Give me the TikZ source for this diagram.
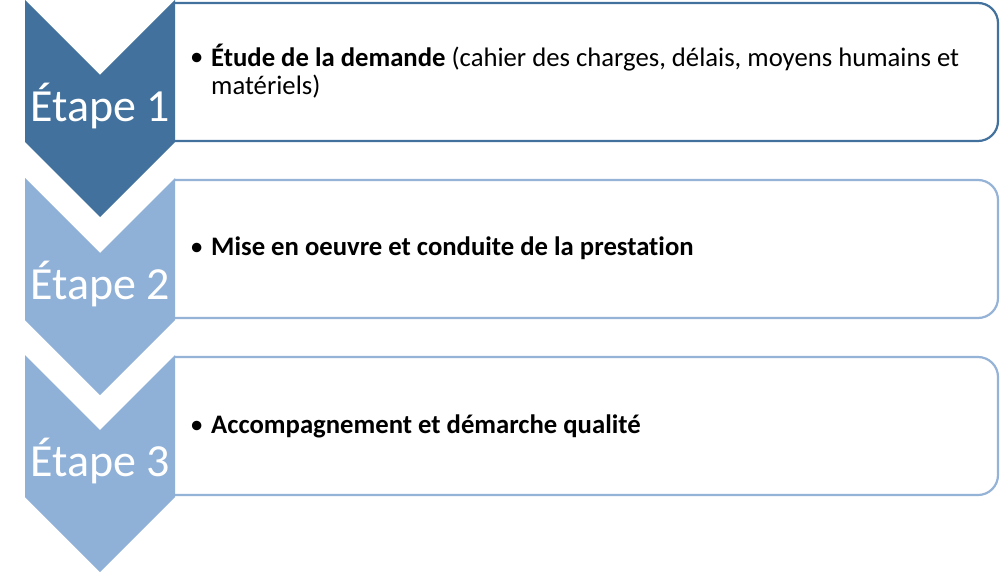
\documentclass[tikz,border=0pt]{standalone}
\usepackage{fontspec}
\setmainfont{Carlito}[Ligatures=NoCommon]
\definecolor{darkblue}{HTML}{41719C}
\definecolor{lightblue}{HTML}{8FB0D7}
\definecolor{lightborder}{HTML}{95B3D7}
\begin{document}
\begin{tikzpicture}[x=1pt,y=-1pt,
  boxline/.style={line width=2.2pt,fill=white,rounded corners=20pt},
  stagelabel/.style={text=white,font=\fontsize{46}{50}\selectfont,anchor=base,inner sep=0pt},
  itemtext/.style={font=\fontsize{26.7}{28.5}\selectfont,anchor=base west,inner sep=0pt,align=left},
  bulletmark/.style={font=\fontsize{26.7}{28.5}\selectfont,anchor=base west,inner sep=0pt}]
\useasboundingbox (0,0) rectangle (1000,572);
% boxes
\draw[boxline,draw=darkblue] (175,3) -- (998,3) -- (998,141) -- (175,141);
\draw[boxline,draw=lightborder] (175,180) -- (998,180) -- (998,318) -- (175,318);
\draw[boxline,draw=lightborder] (175,357) -- (998,357) -- (998,495) -- (175,495);
% chevrons
\fill[darkblue] (25,0) -- (100,75) -- (175,0) -- (175,142) -- (100,217) -- (25,142) -- cycle;
\fill[lightblue] (25,178) -- (100,253) -- (175,178) -- (175,320) -- (100,395) -- (25,320) -- cycle;
\fill[lightblue] (25,355) -- (100,430) -- (175,355) -- (175,497) -- (100,572) -- (25,497) -- cycle;
% labels
\node[stagelabel] (s1) at (100,122) {Étape 1};
\node[stagelabel] (s2) at (100,299) {Étape 2};
\node[stagelabel] (s3) at (100,476) {Étape 3};
% items
\node[bulletmark] (b1) at (190,66) {•};
\node[itemtext] (t1) at (211,95) {\textbf{Étude de la demande} (cahier des charges, délais, moyens humains et\\matériels)};
\node[bulletmark] (b2) at (190,255) {•};
\node[itemtext] (t2) at (211,255) {\textbf{Mise en oeuvre et conduite de la prestation}};
\node[bulletmark] (b3) at (190,433) {•};
\node[itemtext] (t3) at (211,433) {\textbf{Accompagnement et démarche qualité}};
\end{tikzpicture}
\end{document}
